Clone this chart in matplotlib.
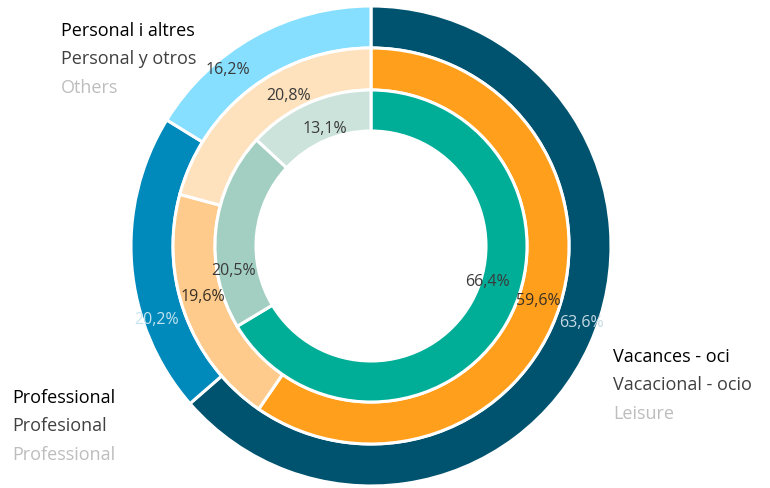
import numpy as np
import matplotlib
matplotlib.use("Agg")
import matplotlib.pyplot as plt

plt.rcParams['font.family'] = ['Open Sans', 'DejaVu Sans']

# ring values, clockwise from 12 o'clock: leisure, professional, others
outer_vals = [63.6, 20.2, 16.2]
middle_vals = [59.6, 19.6, 20.8]
inner_vals = [66.4, 20.5, 13.1]

outer_colors = ['#00536f', '#0089bb', '#87dfff']
middle_colors = ['#ff9f1c', '#fecb8c', '#fee2bd']
inner_colors = ['#00ae98', '#a2cfc1', '#cce3db']

outer_txt = ['#c4d9e3', '#c4e3f0', '#3a3a3a']
middle_txt = ['#3a3024', '#3a3024', '#3a3a3a']
inner_txt = ['#3a3a3a', '#3a3a3a', '#3a3a3a']

# label placement (angle in degrees, radius in px)
outer_lab = [(-19.8, 224), (198.8, 227), (129, 228)]
middle_lab = [(-18, 176), (196.6, 175), (118.8, 172)]
inner_lab = [(-16.7, 122), (189.9, 140), (111.3, 127)]

cat_labels = [
    ("Personal i altres", "Personal y otros", "Others", 61, 36),
    ("Professional", "Profesional", "Professional", 12, 403),
    ("Vacances - oci", "Vacacional - ocio", "Leisure", 613, 362),
]

W, H = 770, 489
cx, cy = 371, H - 247

fig = plt.figure(figsize=(7.7, 4.89), dpi=100)
ax = fig.add_axes([0, 0, 1, 1])


def ring(vals, colors, radius, width, txt_colors, lab_pos, clip):
    wedges, _ = ax.pie(vals, radius=radius, center=(cx, cy), startangle=90,
                       counterclock=False, colors=colors,
                       wedgeprops=dict(width=width, edgecolor='white', linewidth=2.2))
    for w, v, c, (ang, r) in zip(wedges, vals, txt_colors, lab_pos):
        a = np.deg2rad(ang)
        t = ax.text(cx + r * np.cos(a), cy + r * np.sin(a),
                    f"{v:.1f}".replace('.', ',') + '%',
                    ha='center', va='center', fontsize=11.5, color=c)
        if clip:
            t.set_clip_path(w)


ring(outer_vals, outer_colors, 240, 42, outer_txt, outer_lab, True)
ring(middle_vals, middle_colors, 198, 42, middle_txt, middle_lab, False)
ring(inner_vals, inner_colors, 156, 41, inner_txt, inner_lab, False)

ax.set_xlim(0, W)
ax.set_ylim(0, H)
ax.set_aspect('equal')
ax.axis('off')

for ca, es, en, x, y in cat_labels:
    ax.text(x, H - y, ca, fontsize=13, color='black', va='baseline')
    ax.text(x, H - y - 28, es, fontsize=13, color='#404040', va='baseline')
    ax.text(x, H - y - 57, en, fontsize=13, color='#bdbdbd', va='baseline')

fig.savefig('out.png', dpi=100)
